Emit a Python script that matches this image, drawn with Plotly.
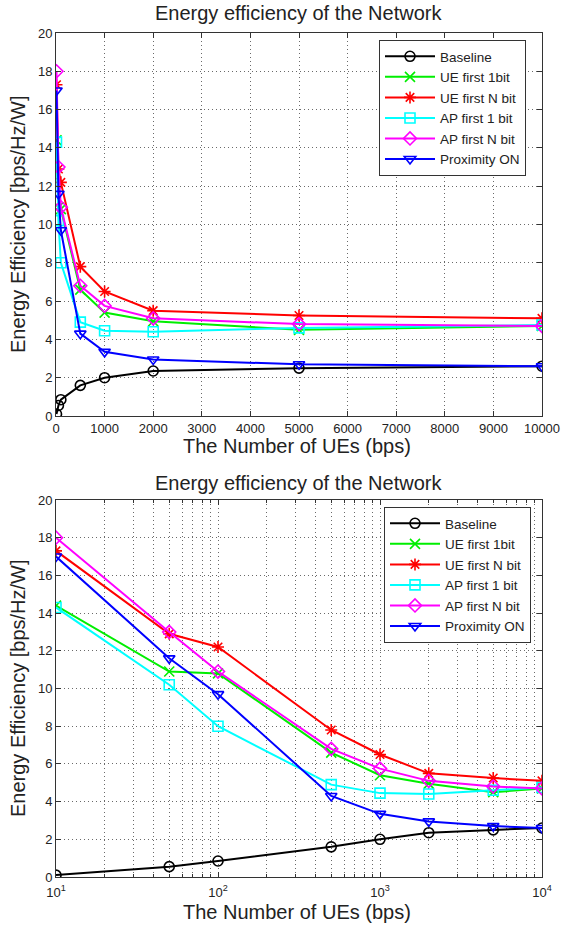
import plotly.graph_objects as go

x_vals = [10, 50, 100, 500, 1000, 2000, 5000, 10000]
baseline = [0.1, 0.55, 0.85, 1.6, 2.0, 2.35, 2.5, 2.6]
ue_first_1bit = [14.4, 10.9, 10.8, 6.6, 5.4, 4.95, 4.5, 4.7]
ue_first_nbit = [17.3, 12.9, 12.2, 7.8, 6.5, 5.5, 5.25, 5.1]
ap_first_1bit = [14.3, 10.2, 8.0, 4.9, 4.45, 4.4, 4.6, 4.75]
ap_first_nbit = [18.0, 13.0, 10.9, 6.8, 5.75, 5.1, 4.8, 4.7]
proximity_on = [17.0, 11.6, 9.7, 4.3, 3.35, 2.95, 2.7, 2.6]

lin_ticks = [0, 1000, 2000, 3000, 4000, 5000, 6000, 7000, 8000, 9000, 10000]
lin_ticktext = ["0", "1000", "2000", "3000", "4000", "5000", "6000", "7000", "8000", "9000", "10000"]
log_ticks = [10, 100, 1000, 10000]
log_ticktext = ["10<sup>1</sup>", "10<sup>2</sup>", "10<sup>3</sup>", "10<sup>4</sup>"]
log_minor = [m * d for d in (10, 100, 1000) for m in range(2, 10)]

series = [
    ("Baseline", baseline, "black", "circle-open"),
    ("UE first 1bit", ue_first_1bit, "#00ee00", "x-thin-open"),
    ("UE first N bit", ue_first_nbit, "#ff0000", "asterisk-open"),
    ("AP first 1 bit", ap_first_1bit, "#00ffff", "square-open"),
    ("AP first N bit", ap_first_nbit, "#ff00ff", "diamond-open"),
    ("Proximity ON", proximity_on, "#0000ff", "triangle-down-open"),
]

title_text = "Energy efficiency of the Network"
xlabel = "The Number of UEs (bps)"
ylabel = "Energy Efficiency [bps/Hz/W]"

W, H = 561, 926
FONT = "Liberation Sans, Arial, sans-serif"

fig = go.Figure()
for ax, leg in (("", "legend"), ("2", "legend2")):
    for name, ys, col, sym in series:
        fig.add_trace(go.Scatter(
            x=x_vals, y=ys, name=name, mode="lines+markers",
            xaxis="x" + ax, yaxis="y" + ax, legend=leg,
            line=dict(color=col, width=2),
            marker=dict(symbol=sym, size=10, color=col,
                        line=dict(color=col, width=1.6)),
        ))

def px_x(p):
    return p / W

def px_y(p):
    return 1 - p / H

left, right = 56, 542
GRIDCOL = "#6a6a6a"
GRIDDASH = "1px,3px"
grid = dict(showgrid=True, gridcolor=GRIDCOL, griddash=GRIDDASH, gridwidth=1,
            zeroline=False, showline=True, linecolor="#333", linewidth=1,
            mirror="ticks", ticks="inside", ticklen=5, tickcolor="#333",
            automargin=False,
            tickfont=dict(family=FONT, size=13, color="#222"))

leg_common = dict(xanchor="left", yanchor="top",
                  bgcolor="white", bordercolor="#333", borderwidth=1,
                  font=dict(family=FONT, size=13.5, color="#222"),
                  tracegroupgap=0, itemwidth=50)

def ann(text, x, y, size=20, angle=0):
    return dict(text=text, x=px_x(x), y=px_y(y), xref="paper", yref="paper",
                showarrow=False, textangle=angle, xanchor="center", yanchor="middle",
                font=dict(family=FONT, size=size, color="#222"))

fig.update_layout(
    template="none",
    width=W, height=H, margin=dict(l=0, r=0, t=0, b=0),
    paper_bgcolor="white", plot_bgcolor="white",
    font=dict(family=FONT, color="#222"),
    showlegend=True,
    xaxis=dict(domain=[px_x(left), px_x(right)], anchor="y", range=[0, 10000],
               tickmode="array", tickvals=lin_ticks, ticktext=lin_ticktext, **grid),
    yaxis=dict(domain=[px_y(416), px_y(33)], anchor="x", range=[0, 20], dtick=2, **grid),
    xaxis2=dict(domain=[px_x(left), px_x(right)], anchor="y2", type="log",
                range=[1, 4], tickmode="array", tickvals=log_ticks, ticktext=log_ticktext,
                ticklabelstandoff=3,
                minor=dict(tickmode="array", tickvals=log_minor, showgrid=True,
                           gridcolor=GRIDCOL, griddash=GRIDDASH, gridwidth=1,
                           ticks="inside", ticklen=3, tickcolor="#333"),
                **grid),
    yaxis2=dict(domain=[px_y(877), px_y(500)], anchor="x2", range=[0, 20], dtick=2, **grid),
    legend=dict(x=px_x(379), y=px_y(40), **leg_common),
    legend2=dict(x=px_x(384), y=px_y(507), **leg_common),
    annotations=[
        ann(title_text, 298, 13),
        ann(title_text, 298, 483),
        ann(xlabel, 297, 446),
        ann(xlabel, 297, 912),
        ann(ylabel, 18, 224, angle=-90),
        ann(ylabel, 18, 688, angle=-90),
    ],
)

fig.write_html("out.html", config={"displayModeBar": False},
               post_script="document.body.style.margin='0';")
